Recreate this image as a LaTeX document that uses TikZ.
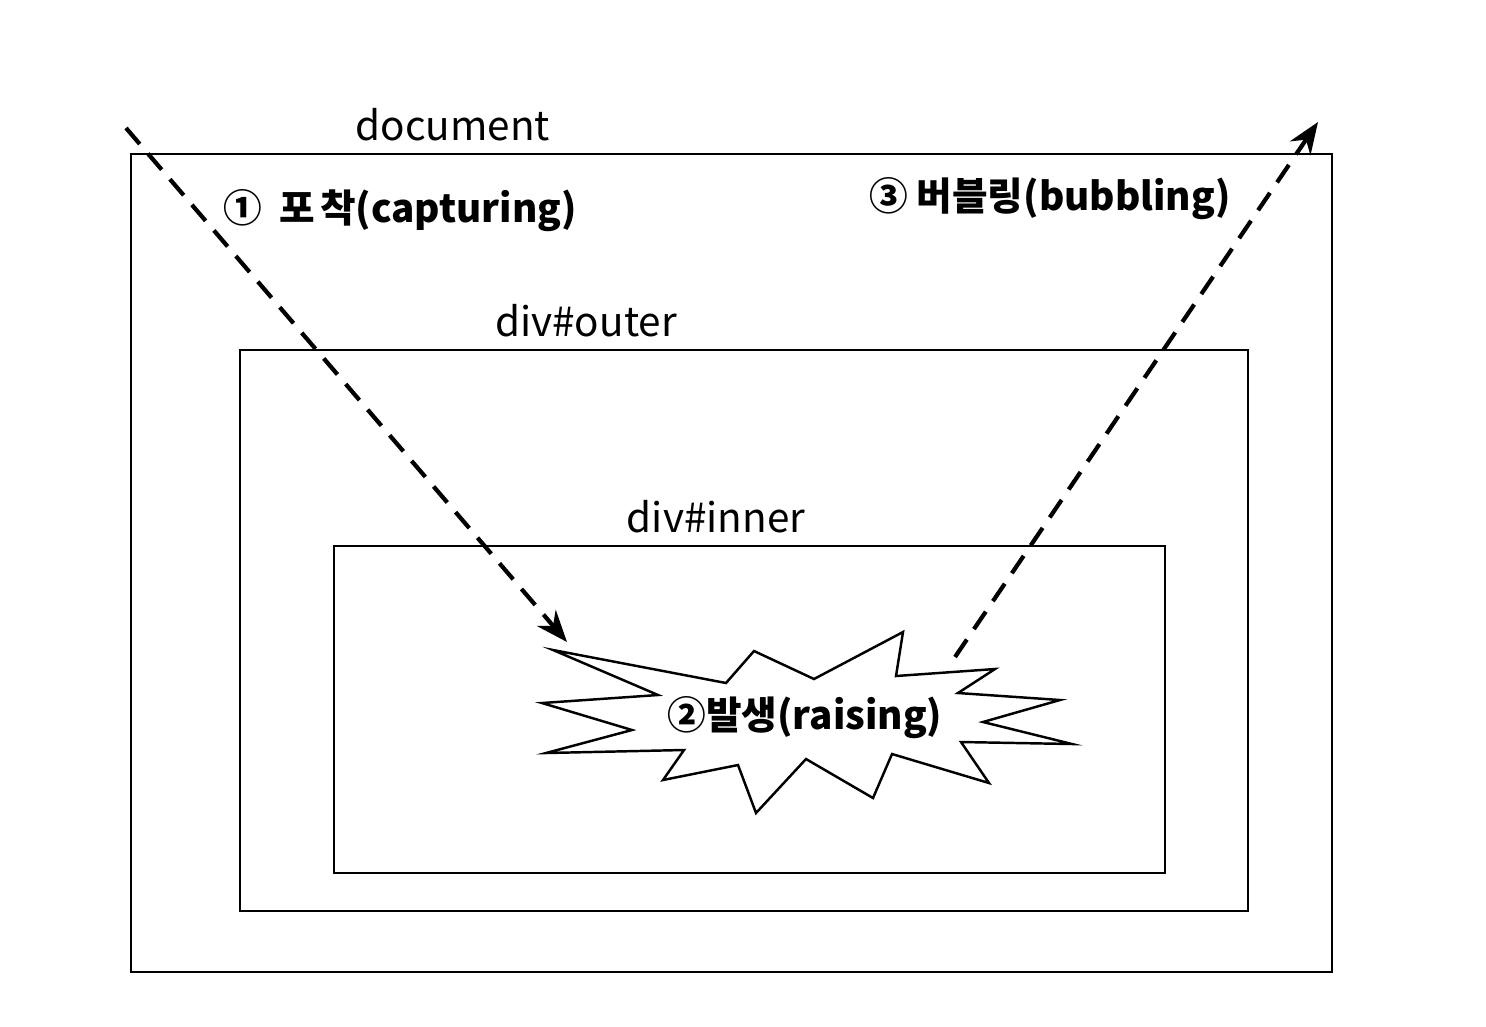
\documentclass[tikz,border=0pt]{standalone}
\usepackage{fontspec}
\setmainfont{Noto Sans CJK KR}
\usepackage{tikz}
\usetikzlibrary{arrows.meta}

\begin{document}
\begin{tikzpicture}[x=0.1mm, y=-0.1mm,
    frame/.style={draw, line width=0.6pt},
    tag/.style={font=\fontsize{11.5}{14}\selectfont},
    phase/.style={font=\bfseries\fontsize{11}{13}\selectfont},
    flow/.style={line width=1.2pt, dash pattern=on 6pt off 3.6pt, -{Stealth[length=9pt, width=7pt]}},
    burst/.style={draw, line width=0.7pt, fill=white}]

    \useasboundingbox (0,0) rectangle (1486,1026);

    \draw[frame] (131,154) rectangle (1332,972);
    \draw[frame] (240,350) rectangle (1248,911);
    \draw[frame] (334,546) rectangle (1165,873);

    \node[tag] (docLabel) at (453,125) {document};
    \node[tag] (outerLabel) at (586,321) {div\#outer};
    \node[tag] (innerLabel) at (716,517) {div\#inner};

    \draw[burst] (553,650) -- (726,683) -- (754,651) -- (814,679) -- (903,632) -- (896,676)
        -- (995,669) -- (958,693) -- (1060,700) -- (983,722) -- (1072,744) -- (961,742)
        -- (989,783) -- (892,754) -- (873,798) -- (806,759) -- (756,813) -- (738,765)
        -- (663,780) -- (684,750) -- (546,753) -- (632,730) -- (542,703) -- (658,695) -- cycle;
    \node[phase] (raise) at (805,718) {②발생(raising)};

    \node[phase] (capture) at (400,211) {①\hspace{5pt}포\hspace{1.5pt}착(capturing)};
    \node[phase] (bubble) at (1050,199) {③ 버블링(bubbling)};

    \coordinate (capStart) at (126,128);
    \coordinate (capEnd) at (567,642);
    \coordinate (bubStart) at (955,657);
    \coordinate (bubEnd) at (1318,122);

    \draw[flow] (capStart) -- (capEnd);
    \draw[flow] (bubStart) -- (bubEnd);
\end{tikzpicture}
\end{document}
